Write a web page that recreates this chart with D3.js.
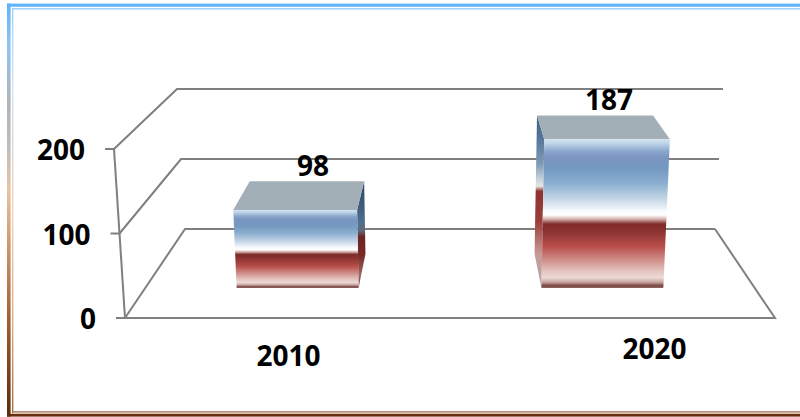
<!DOCTYPE html>
<html>
<head>
<meta charset="utf-8">
<script src="https://cdn.jsdelivr.net/npm/d3@7"></script>
<style>html,body{margin:0;padding:0;background:#fff;overflow:hidden}svg{display:block}</style>
</head>
<body>
<svg id="c" width="800" height="417"></svg>
<script>
const categories = ["2010", "2020"];
const values = [98, 187];
const tickValues = [0, 100, 200];

const W = 800, H = 417, FONT = "'Open Sans', Lato, sans-serif";
const svg = d3.select("#c");
const defs = svg.append("defs");

function gradient(id, stops, x2 = 0, y2 = 1) {
  const g = defs.append("linearGradient").attr("id", id)
    .attr("x1", 0).attr("y1", 0).attr("x2", x2).attr("y2", y2);
  g.selectAll("stop").data(stops).join("stop")
    .attr("offset", d => d[0]).attr("stop-color", d => d[1]);
}
gradient("front", [[0,"#d3e3f1"],[.03,"#bcd3e8"],[.08,"#8ba7cb"],[.12,"#7b96c0"],[.2,"#7399c0"],[.3,"#8cafd0"],[.4,"#c3d5e6"],[.48,"#f6f9fb"],[.51,"#ffffff"],[.535,"#d9b8b5"],[.57,"#7f2c29"],[.62,"#8a3331"],[.72,"#b94d49"],[.8,"#cc8682"],[.88,"#e3c0bb"],[.93,"#ecd9d5"],[.96,"#c9a8a3"],[.985,"#7a4540"],[1,"#8f6a66"]]);
gradient("sideL", [[0,"#3f5f80"],[.14,"#57789b"],[.28,"#7e9ab5"],[.38,"#cfd8e0"],[.41,"#e8e4e4"],[.44,"#8f3330"],[.62,"#9c3f3b"],[.8,"#c79a96"],[.97,"#b8a6a3"],[1,"#7a5a56"]]);
gradient("sideR", [[0,"#2f4a66"],[.2,"#3a5878"],[.38,"#4f6f90"],[.46,"#5f6a7c"],[.52,"#6a2523"],[.7,"#7c2a27"],[.88,"#9c6a66"],[1,"#6a3a36"]]);
gradient("borderLeft", [[0,"#5fb3fb"],[.1,"#8cc4f4"],[.24,"#b0b4b8"],[.34,"#bcbcbc"],[.45,"#e8c4a4"],[.58,"#d29868"],[.8,"#9c5424"],[1,"#5c2a0c"]]);
gradient("borderLeftIn", [[0,"#a4d2fa"],[.2,"#d4e4f0"],[.34,"#d8d8d8"],[.5,"#f0d4bc"],[.8,"#d4a888"],[1,"#a86c40"]]);

// Window frame: top and bottom double rule plus the gradient left edge
const frame = svg.append("g");
frame.append("rect").attr("x", 7).attr("y", 3.6).attr("width", W - 7).attr("height", 3.2).attr("fill", "#63b5fb");
frame.append("rect").attr("x", 12).attr("y", 8).attr("width", W - 12).attr("height", 1.6).attr("fill", "#a4d2fa");
frame.append("rect").attr("x", 12).attr("y", 411.4).attr("width", W - 12).attr("height", 1.2).attr("fill", "#8a4a20");
frame.append("rect").attr("x", 12).attr("y", 412.6).attr("width", W - 12).attr("height", 1.2).attr("fill", "#f0e0d4");
frame.append("rect").attr("x", 7).attr("y", 413.8).attr("width", W - 7).attr("height", 2.8).attr("fill", "#6a300e");
frame.append("rect").attr("x", 7).attr("y", 3.6).attr("width", 3.6).attr("height", 413).attr("fill", "url(#borderLeft)");
frame.append("rect").attr("x", 12).attr("y", 8).attr("width", 1.4).attr("height", 405).attr("fill", "url(#borderLeftIn)");

// Oblique 3D projection: u across the floor, t from front (0) to back (1), v value
const maxV = 200;
const yFront = d3.scaleLinear().domain([0, maxV]).range([318, 149]);
const yBack = d3.scaleLinear().domain([0, maxV]).range([229, 89]);
const halfFront = d3.scaleLinear().domain([0, maxV]).range([325, 336]);
const halfBack = d3.scaleLinear().domain([0, maxV]).range([265, 273]);
const uScale = d3.scaleBand().domain(categories).range([-1, 1]).paddingInner(0.6).paddingOuter(0.3);
const lerp = (a, b, t) => a + (b - a) * t;
function project(u, t, v) {
  return [450 + u * lerp(halfFront(v), halfBack(v), t), lerp(yFront(v), yBack(v), t)];
}
const poly = pts => d3.line()(pts) + "Z";

// Walls and floor
const grid = svg.append("g").attr("fill", "none").attr("stroke", "#7f7f7f").attr("stroke-width", 2);
grid.selectAll("path.g").data(tickValues).join("path").attr("class", "g")
  .attr("d", v => d3.line()([project(-1, 0, v), project(-1, 1, v), project(1, 1, v)]));
grid.append("path").attr("d", d3.line()([project(-1, 0, 0), project(1, 0, 0), project(1, 1, 0)]));
grid.append("path").attr("d", d3.line()([project(-1, 0, maxV), project(-1, 0, 0)]));
grid.selectAll("path.t").data(tickValues).join("path").attr("class", "t")
  .attr("d", v => { const p = project(-1, 0, v); return d3.line()([[p[0] - 9, p[1]], p]); });

// Bars
const tFront = 0.337, tBack = 0.72;
const bars = svg.append("g").selectAll("g").data(categories.map((c, i) => ({ c, v: values[i] }))).join("g");
bars.each(function (d) {
  const g = d3.select(this);
  const u0 = uScale(d.c), u1 = u0 + uScale.bandwidth();
  const f = (u, v) => project(u, tFront, v), b = (u, v) => project(u, tBack, v);
  const leftSide = u0 > 0;
  const su = leftSide ? u0 : u1;
  g.append("path").attr("fill", leftSide ? "url(#sideL)" : "url(#sideR)")
    .attr("d", poly([b(su, d.v), f(su, d.v), f(su, 0), b(su, 0)]));
  g.append("path").attr("fill", "#a3afb7")
    .attr("d", poly([b(u0, d.v), b(u1, d.v), f(u1, d.v), f(u0, d.v)]));
  g.append("path").attr("fill", "url(#front)")
    .attr("d", poly([f(u0, d.v), f(u1, d.v), f(u1, 0), f(u0, 0)]));
});

// Text
const text = svg.append("g").attr("font-family", FONT).attr("font-weight", 700).attr("font-size", 28).attr("fill", "#000");
text.selectAll("text.tick").data(tickValues).join("text").attr("class", "tick")
  .attr("text-anchor", "end")
  .attr("x", v => project(-1, 0, v)[0] - 29)
  .attr("y", v => project(-1, 0, v)[1] + 11)
  .text(d => d);
const catOffset = [[1, 48], [42, 41]];
text.selectAll("text.cat").data(categories).join("text").attr("class", "cat")
  .attr("text-anchor", "middle")
  .attr("x", (c, i) => project(uScale(c) + uScale.bandwidth() / 2, 0, 0)[0] + catOffset[i][0])
  .attr("y", (c, i) => project(0, 0, 0)[1] + catOffset[i][1])
  .text(c => c);
const valOffset = [6, 14];
text.selectAll("text.val").data(values).join("text").attr("class", "val")
  .attr("text-anchor", "middle")
  .attr("x", (v, i) => project(uScale(categories[i]) + uScale.bandwidth() / 2, tBack, v)[0] + valOffset[i])
  .attr("y", (v, i) => project(0, tBack, v)[1] - 5)
  .text(d => d);
</script>
</body>
</html>
